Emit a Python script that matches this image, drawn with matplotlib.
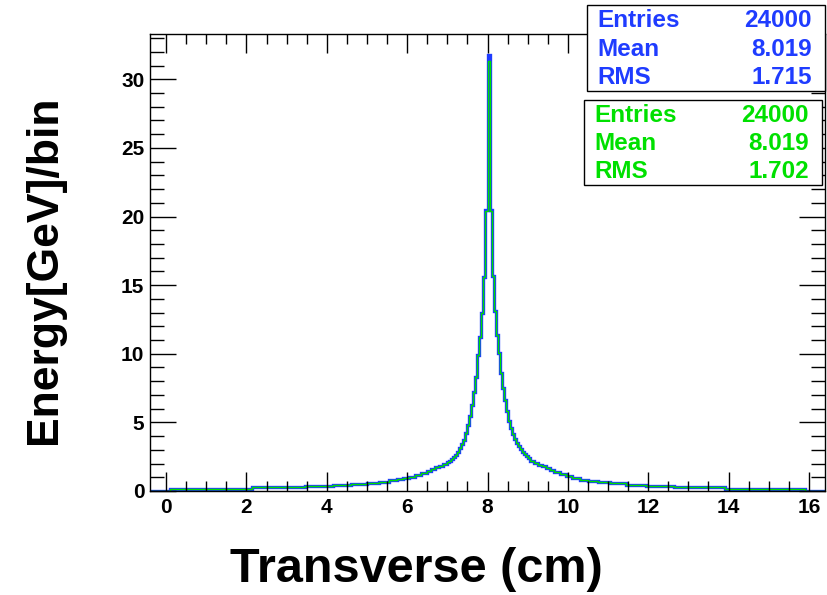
import matplotlib
matplotlib.use("Agg")
import matplotlib.pyplot as plt
from matplotlib.ticker import MultipleLocator

plt.rcParams['font.family'] = ['Liberation Sans', 'DejaVu Sans']
plt.rcParams['font.weight'] = 'bold'

# Histogram bin edges (cm) and energy per bin (GeV)
edges = [-0.4, 0.1, 2.15, 3.45, 4.15, 4.6, 5.0, 5.3, 5.55, 5.75, 5.9, 6.05, 6.2, 6.35,
         6.5, 6.6, 6.7, 6.8, 6.9, 7.0,
         7.05, 7.1, 7.15, 7.2, 7.25, 7.3, 7.35, 7.4, 7.45, 7.5,
         7.55, 7.6, 7.65, 7.7, 7.75, 7.8, 7.85, 7.9, 7.95, 8.0,
         8.05, 8.1, 8.15, 8.2, 8.25, 8.3, 8.35, 8.4, 8.45, 8.5,
         8.55, 8.6, 8.65, 8.7, 8.75, 8.8, 8.85, 8.9, 8.95, 9.0, 9.05,
         9.15, 9.25, 9.35, 9.45, 9.55, 9.65, 9.8, 9.95, 10.1, 10.3, 10.5,
         10.75, 11.05, 11.45, 11.95, 12.65, 13.9, 15.9, 16.4]

energy_blue = [0.0, 0.17, 0.27, 0.36, 0.45, 0.53, 0.61, 0.69, 0.77, 0.85, 0.94, 1.04, 1.18,
               1.34, 1.48, 1.60, 1.72, 1.85, 1.98,
               2.10, 2.22, 2.35, 2.50, 2.65, 2.85, 3.10, 3.40, 3.75, 4.20,
               4.80, 5.50, 6.30, 7.20, 8.30, 9.90, 11.2, 13.0, 15.6, 20.5,
               31.8,
               20.5, 15.7, 13.1, 11.4, 10.05, 8.6, 7.5, 6.6, 5.8, 5.1,
               4.6, 4.15, 3.8, 3.5, 3.25, 3.05, 2.85, 2.68, 2.52, 2.38,
               2.20, 2.05, 1.92, 1.80, 1.66, 1.54, 1.40, 1.22, 1.06, 0.92, 0.80,
               0.72, 0.64, 0.56, 0.47, 0.37, 0.27, 0.17, 0.0]

energy_green = [0.0, 0.17, 0.27, 0.36, 0.45, 0.53, 0.61, 0.69, 0.77, 0.85, 0.94, 1.04, 1.18,
                1.34, 1.48, 1.60, 1.72, 1.85, 1.98,
                2.10, 2.22, 2.35, 2.50, 2.65, 2.85, 3.10, 3.40, 3.75, 4.20,
                4.80, 5.50, 6.30, 7.20, 8.30, 9.90, 11.2, 13.0, 15.6, 20.4,
                31.3,
                20.4, 15.7, 13.1, 11.4, 10.05, 8.6, 7.5, 6.6, 5.8, 5.1,
                4.6, 4.15, 3.8, 3.5, 3.25, 3.05, 2.85, 2.68, 2.52, 2.38,
                2.20, 2.05, 1.92, 1.80, 1.66, 1.54, 1.40, 1.22, 1.06, 0.92, 0.80,
                0.72, 0.64, 0.56, 0.47, 0.37, 0.27, 0.17, 0.0]

stats_labels = ['Entries', 'Mean', 'RMS']
stats_blue = ['24000', '8.019', '1.715']
stats_green = ['24000', '8.019', '1.702']

blue = '#1f3cff'
green = '#00e000'

fig = plt.figure(figsize=(8.28, 5.95), dpi=100)
ax = fig.add_axes([150/828, 1 - 491/595, 675/828, 457/595])

ax.stairs(energy_blue, edges, color=blue, lw=2.4, baseline=None)
ax.stairs(energy_green, edges, color=green, lw=1.0, baseline=None)

ax.set_xlim(-0.4, 16.4)
ax.set_ylim(0, 33.3)

ax.xaxis.set_major_locator(MultipleLocator(2))
ax.xaxis.set_minor_locator(MultipleLocator(0.5))
ax.yaxis.set_major_locator(MultipleLocator(5))
ax.yaxis.set_minor_locator(MultipleLocator(1))

ax.tick_params(axis='both', which='both', direction='in', top=True, right=True,
               width=1, labelsize=15)
ax.tick_params(axis='x', which='major', length=14, pad=5)
ax.tick_params(axis='x', which='minor', length=7)
ax.tick_params(axis='y', which='major', length=19, pad=4)
ax.tick_params(axis='y', which='minor', length=10)
for lab in ax.get_xticklabels() + ax.get_yticklabels():
    lab.set_fontweight('bold')
for sp in ax.spines.values():
    sp.set_linewidth(1)

fig.text(416/828, 1 - 570/595, 'Transverse (cm)', ha='center', va='center',
         fontsize=35, fontweight='bold')
fig.text(45/828, 1 - 270/595, 'Energy[GeV]/bin', ha='center', va='center',
         rotation=90, fontsize=32, fontweight='bold')

# stats boxes, one per histogram
def stats_box(y_top, y_bot, x_left, x_right, values, color):
    box = plt.Rectangle((x_left/828, 1 - y_bot/595), (x_right - x_left)/828,
                        (y_bot - y_top)/595, transform=fig.transFigure,
                        facecolor='white', edgecolor='black', lw=1, zorder=5)
    fig.add_artist(box)
    row_h = (y_bot - y_top) / 3
    for i, (name, val) in enumerate(zip(stats_labels, values)):
        yc = y_top + row_h * (i + 0.5) + 1
        fig.text((x_left + 10)/828, 1 - yc/595, name, ha='left', va='center',
                 color=color, fontsize=17.5, fontweight='bold', zorder=6)
        fig.text((x_right - 13)/828, 1 - yc/595, val, ha='right', va='center',
                 color=color, fontsize=17.5, fontweight='bold', zorder=6)

stats_box(5, 91, 587, 825, stats_blue, blue)
stats_box(100, 185, 584, 822, stats_green, green)

fig.savefig('out.png', dpi=100)
